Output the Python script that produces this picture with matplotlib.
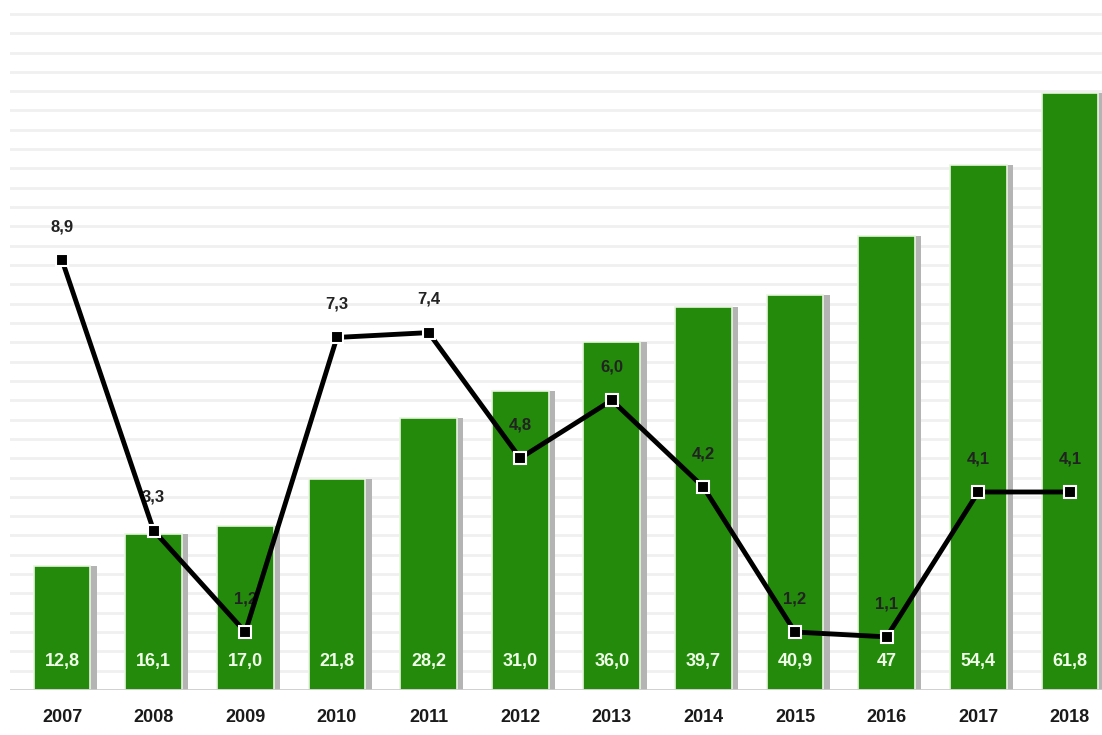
import numpy as np
import matplotlib.pyplot as plt

plt.rcParams['font.family'] = ['Liberation Sans Narrow', 'Liberation Sans', 'DejaVu Sans']

years = ["2007", "2008", "2009", "2010", "2011", "2012", "2013", "2014", "2015", "2016", "2017", "2018"]
bar_values = [12.8, 16.1, 17.0, 21.8, 28.2, 31.0, 36.0, 39.7, 40.9, 47, 54.4, 61.8]
bar_labels = ["12,8", "16,1", "17,0", "21,8", "28,2", "31,0", "36,0", "39,7", "40,9", "47", "54,4", "61,8"]
line_values = [8.9, 3.3, 1.2, 7.3, 7.4, 4.8, 6.0, 4.2, 1.2, 1.1, 4.1, 4.1]
line_labels = ["8,9", "3,3", "1,2", "7,3", "7,4", "4,8", "6,0", "4,2", "1,2", "1,1", "4,1", "4,1"]

x = np.arange(len(years))

fig = plt.figure(figsize=(11.02, 7.35), dpi=100)
ax = fig.add_axes([10/1102, 45/735, 1092/1102, 680/735])

# light background stripes
for g in np.arange(2, 71, 2):
    ax.axhline(g, color='#f0f0f0', lw=2.0, zorder=0)

# shadow + bars
ax.bar(x + 0.07, bar_values, width=0.62, color='#b4b4b4', zorder=1)
ax.bar(x, bar_values, width=0.62, color='#238a0b', edgecolor='#e8f5e0', lw=1.2, zorder=2)
ax.axhline(0, color='#cccccc', lw=2, zorder=3)

for i, lab in enumerate(bar_labels):
    ax.text(x[i], 2.9, lab, ha='center', va='center', color='#f0ffe8',
            fontsize=13, fontweight='bold', zorder=4)

ax.set_xlim(-0.568, 11.35)
ax.set_ylim(0, 70.4)
ax.set_xticks(x)
ax.set_xticklabels(years, fontsize=13, fontweight='bold', color='#1a1a1a')
ax.tick_params(axis='x', length=0, pad=14)
ax.set_yticks([])
for s in ax.spines.values():
    s.set_visible(False)

ax2 = ax.twinx()
ax2.set_ylim(0, 14.08)
ax2.plot(x, line_values, color='black', lw=3.5, zorder=5,
         marker='s', markersize=8, markerfacecolor='black',
         markeredgecolor='white', markeredgewidth=1.5)
for i, lab in enumerate(line_labels):
    ax2.annotate(lab, (x[i], line_values[i]), xytext=(0, 24), textcoords='offset points',
                 ha='center', va='center', fontsize=12, fontweight='bold', color='#222222')
ax2.set_yticks([])
for s in ax2.spines.values():
    s.set_visible(False)

fig.savefig('out.png', dpi=100)
